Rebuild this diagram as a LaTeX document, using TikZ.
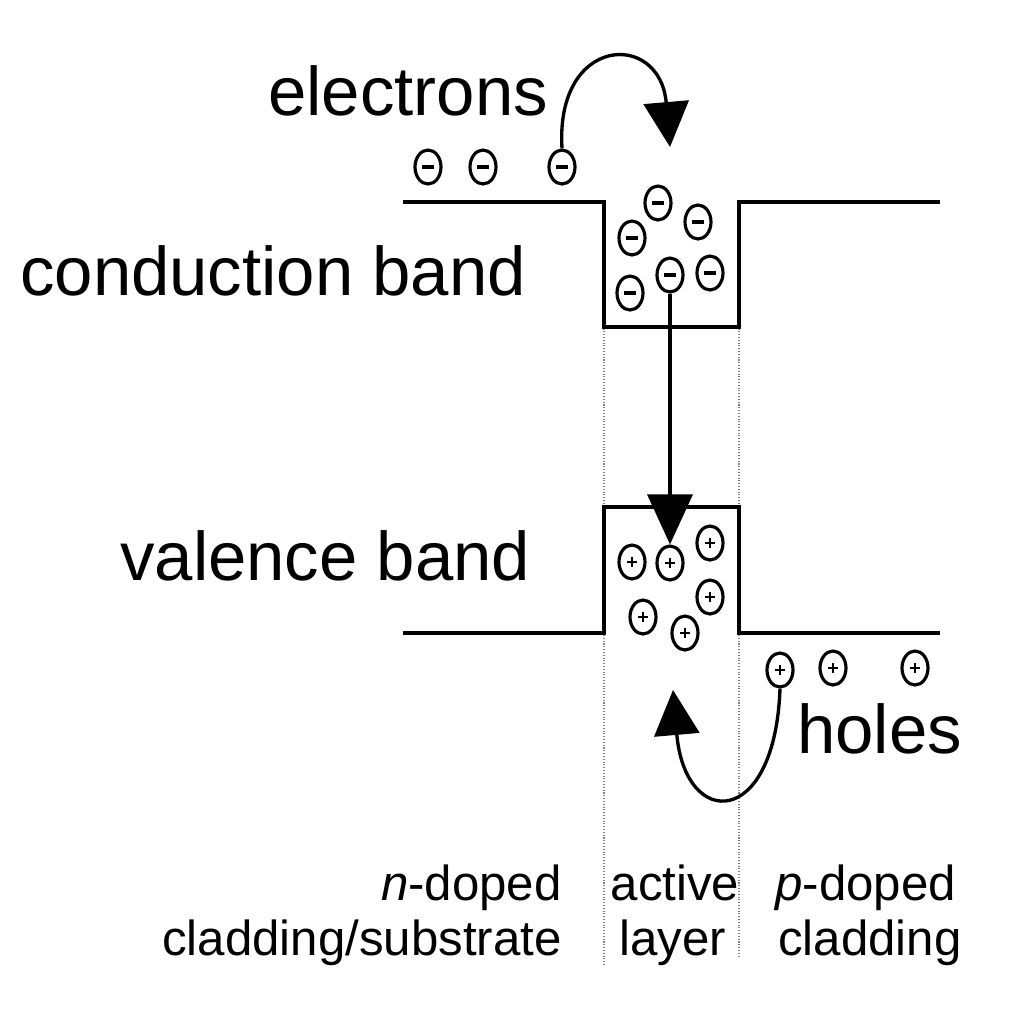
\documentclass[tikz,border=0pt]{standalone}
\usepackage{fontspec}
\setmainfont{Liberation Sans}
\usetikzlibrary{arrows.meta, shapes.geometric}

\begin{document}
\begin{tikzpicture}[x=0.2mm, y=-0.2mm,
  band/.style={line width=1.9pt},
  carrier/.style={ellipse, draw, line width=1.8pt, minimum width=5.2mm, minimum height=6.8mm, inner sep=0pt},
  electron/.style={carrier, path picture={\draw[line width=2pt] ([xshift=-1.15mm]path picture bounding box.center) -- ([xshift=1.15mm]path picture bounding box.center);}},
  hole/.style={carrier, path picture={\draw[line width=1.5pt] ([xshift=-1mm]path picture bounding box.center) -- ([xshift=1mm]path picture bounding box.center) ([yshift=-1mm]path picture bounding box.center) -- ([yshift=1mm]path picture bounding box.center);}},
  jump/.style={line width=1.9pt, -{Triangle[length=9mm, width=9mm]}},
  biglbl/.style={font=\fontsize{39.2}{44}\selectfont, inner sep=0pt},
  smalllbl/.style={font=\fontsize{28}{32}\selectfont, inner sep=0pt}]
\useasboundingbox (0,0) rectangle (1024,1024);
\fill[white] (0,0) rectangle (1024,1024);
% layer boundaries
\draw[gray, line width=0.6pt, densely dotted] (604,202) -- (604,964);
\draw[gray, line width=0.6pt, densely dotted] (739,202) -- (739,958);
% conduction and valence band edges
\draw[band] (403,202) -- (604,202) -- (604,327) -- (739,327) -- (739,202) -- (940,202);
\draw[band] (403,633) -- (604,633) -- (604,507) -- (739,507) -- (739,633) -- (940,633);
% electrons
\node[electron] (e1) at (428,167) {};
\node[electron] (e2) at (483,167) {};
\node[electron] (e3) at (562,167) {};
\node[electron] (e4) at (658,203) {};
\node[electron] (e5) at (698,222) {};
\node[electron] (e6) at (632,238) {};
\node[electron] (e7) at (670,275) {};
\node[electron] (e8) at (710,273) {};
\node[electron] (e9) at (630,293) {};
% holes
\node[hole] (h1) at (632,562) {};
\node[hole] (h2) at (670,563) {};
\node[hole] (h3) at (710,543) {};
\node[hole] (h4) at (710,597) {};
\node[hole] (h5) at (643,617) {};
\node[hole] (h6) at (685,633) {};
\node[hole] (h7) at (780,670) {};
\node[hole] (h8) at (833,668) {};
\node[hole] (h9) at (915,668) {};
% arrows
\coordinate (etip) at (670,147);
\draw[jump] (e3.north) .. controls (555,35) and (660,30) .. (etip);
\draw[line width=1.9pt, -{Triangle[length=10mm, width=9mm]}] (e7.south) -- (h2.north);
\coordinate (htip) at (673,690);
\draw[jump] (h7.south) .. controls (775,830) and (685,830) .. (htip);
% labels
\node[biglbl, anchor=base west] (lel) at (268,115) {electrons};
\node[biglbl, anchor=base west] (lcb) at (20,295) {conduction band};
\node[biglbl, anchor=base west] (lvb) at (120,580) {valence band};
\node[biglbl, anchor=base west] (lho) at (797,753) {holes};
\node[smalllbl, anchor=base east] (ln1) at (562,900) {\textit{n}-doped};
\node[smalllbl, anchor=base east] (ln2) at (562,955) {cladding/substrate};
\node[smalllbl, anchor=base] (la1) at (675,900) {active};
\node[smalllbl, anchor=base] (la2) at (673,955) {layer};
\node[smalllbl, anchor=base west] (lp1) at (775,900) {\textit{p}-doped};
\node[smalllbl, anchor=base west] (lp2) at (778,955) {cladding};
\end{tikzpicture}
\end{document}
